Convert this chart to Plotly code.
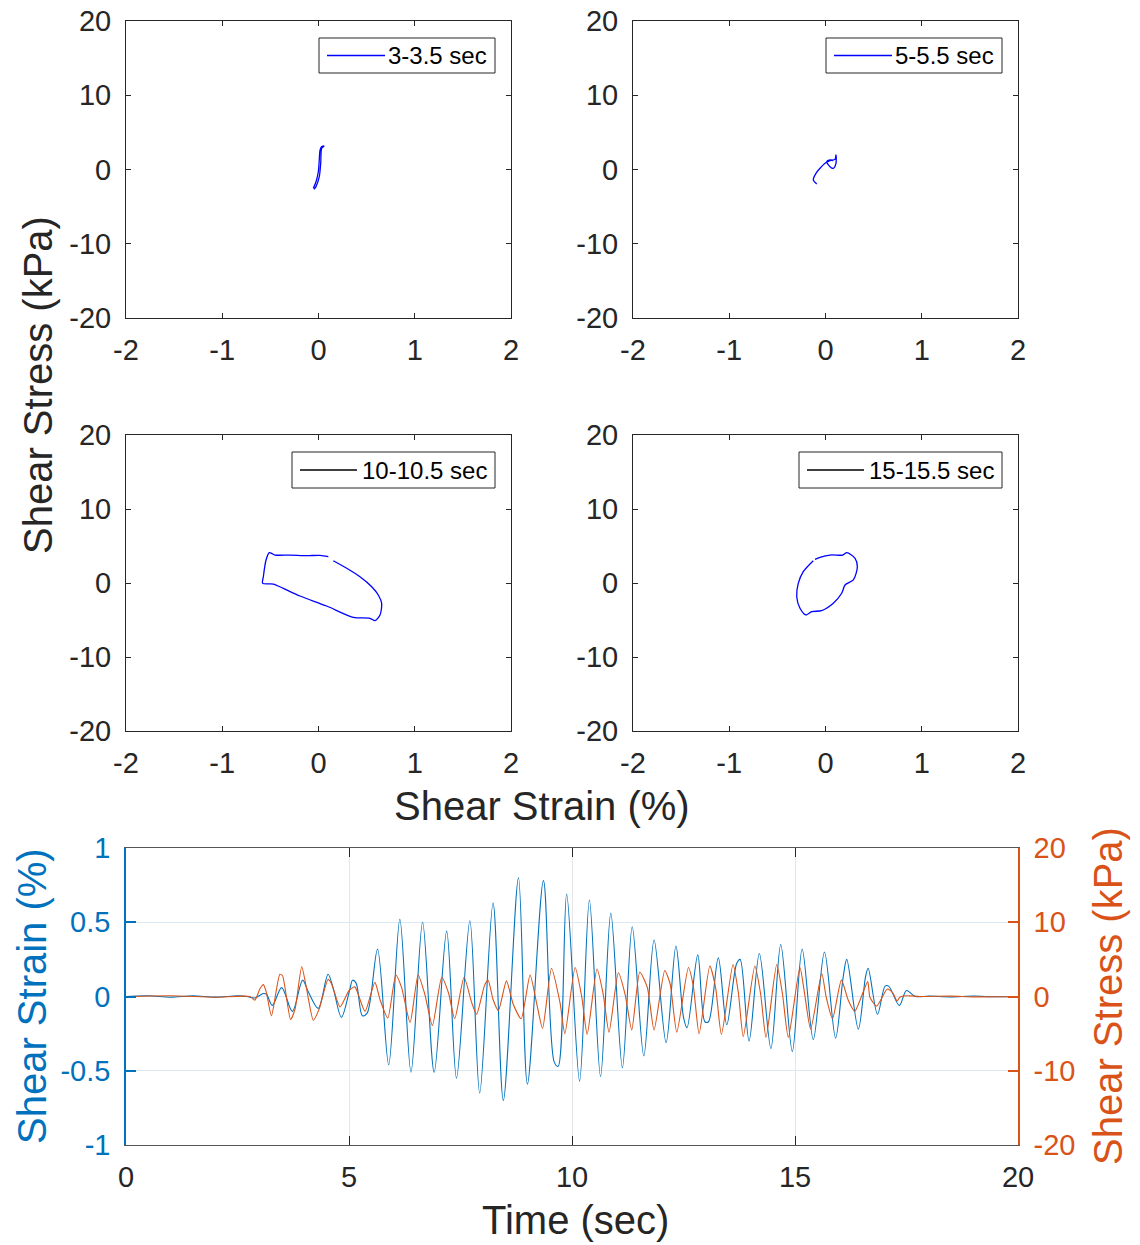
import plotly.graph_objects as go

W, H = 1140, 1245

# ---------------- DATA ----------------
# Hysteresis loops (shear strain %, shear stress kPa)
loop1_label = "3-3.5 sec"
loop1_strain = [-0.047, -0.026, 0.008, 0.023, 0.033, 0.057, 0.033, 0.016, 0.008, -0.002, -0.026, -0.054]
loop1_stress = [-2.67, -2.30, -0.97, 0.83, 2.85, 3.16, 3.10, 2.60, 1.28, -0.30, -1.64, -2.53]

loop2_label = "5-5.5 sec"
loop2_strain = [-0.091, -0.127, -0.099, -0.057, -0.005, 0.047, 0.099, 0.109, 0.109, 0.081, 0.047, 0.012, 0.047, 0.081]
loop2_stress = [-1.95, -1.41, -0.52, 0.16, 0.83, 1.19, 1.37, 1.95, 0.83, 0.16, 0.38, 1.05, 1.28, 1.19]

loop3_label = "10-10.5 sec"
loop3_strain = [0.154, 0.293, 0.431, 0.553, 0.621, 0.656, 0.639, 0.587, 0.535, 0.362, 0.085, -0.192,
                -0.366, -0.470, -0.580, -0.573, -0.545, -0.511, -0.486, -0.452, -0.296, -0.123, 0.016, 0.102]
loop3_stress = [3.01, 1.99, 0.85, -0.50, -1.62, -2.74, -4.32, -5.09, -4.77, -4.64, -3.11, -1.76,
                -0.72, -0.14, -0.05, 0.85, 3.10, 4.10, 4.00, 3.78, 3.78, 3.69, 3.74, 3.56]

loop4_label = "15-15.5 sec"
loop4_strain = [-0.127, -0.231, -0.283, -0.299, -0.265, -0.203, -0.143, -0.040, 0.081, 0.168, 0.203,
                0.289, 0.331, 0.307, 0.221, 0.179, 0.047, -0.057, -0.109]
loop4_stress = [3.01, 1.53, -0.05, -1.85, -3.42, -4.32, -3.87, -3.74, -2.74, -1.39, -0.27,
                0.41, 2.20, 3.34, 4.10, 3.78, 3.78, 3.47, 3.20]

# Time histories
strain_time = [0.0, 0.5, 1.0, 1.5, 2.0, 2.5, 2.71, 2.89, 3.08, 3.15, 3.28, 3.49, 3.73, 3.96, 4.09, 4.31,
               4.53, 4.65, 4.83, 5.02, 5.08, 5.16, 5.30, 5.41, 5.64, 5.89, 6.14, 6.39, 6.65, 6.91, 7.19,
               7.41, 7.71, 7.93, 8.23, 8.46, 8.80, 9.00, 9.36, 9.60, 9.69, 9.88, 10.17, 10.39, 10.64,
               10.87, 11.13, 11.35, 11.61, 11.84, 12.11, 12.33, 12.50, 12.58, 12.82, 12.98, 13.06,
               13.28, 13.47, 13.69, 13.77, 13.97, 14.20, 14.46, 14.68, 14.94, 15.16, 15.41, 15.66,
               15.91, 16.08, 16.16, 16.42, 16.58, 16.64, 16.85, 17.02, 17.10, 17.34, 17.50, 17.70,
               18.0, 18.5, 19.0, 19.5, 20.0]
strain_vals = [0.0, 0.005, -0.005, 0.004, -0.004, 0.004, 0.0, -0.01, 0.02, 0.015, -0.06, 0.06, -0.10,
               0.11, 0.03, -0.08, 0.15, 0.05, -0.14, 0.05, 0.11, 0.09, -0.13, -0.11, 0.32, -0.46, 0.52,
               -0.51, 0.50, -0.51, 0.44, -0.55, 0.51, -0.65, 0.63, -0.70, 0.80, -0.59, 0.78, -0.44,
               -0.47, 0.69, -0.57, 0.65, -0.54, 0.56, -0.48, 0.47, -0.40, 0.38, -0.31, 0.34, -0.14,
               -0.21, 0.28, -0.17, -0.17, 0.26, -0.19, 0.22, 0.25, -0.30, 0.29, -0.35, 0.35, -0.37,
               0.32, -0.29, 0.30, -0.28, 0.13, 0.25, -0.22, 0.13, 0.19, -0.12, 0.07, 0.07, -0.06,
               0.04, 0.0, 0.003, -0.003, 0.003, -0.002, 0.0]

stress_time = [0.0, 1.0, 2.0, 2.78, 2.89, 3.00, 3.08, 3.15, 3.26, 3.45, 3.51, 3.69, 3.79, 3.94, 4.05,
               4.20, 4.33, 4.53, 4.61, 4.80, 5.00, 5.13, 5.20, 5.36, 5.58, 5.70, 5.87, 6.05, 6.18, 6.37,
               6.55, 6.70, 6.87, 7.08, 7.23, 7.37, 7.58, 7.75, 7.86, 8.04, 8.12, 8.23, 8.35, 8.53,
               8.68, 8.86, 9.06, 9.21, 9.34, 9.54, 9.73, 9.84, 10.07, 10.22, 10.34, 10.56, 10.70,
               10.83, 11.04, 11.19, 11.34, 11.52, 11.69, 11.84, 12.08, 12.20, 12.35, 12.61, 12.72,
               12.85, 13.09, 13.22, 13.35, 13.61, 13.73, 13.84, 14.10, 14.23, 14.35, 14.59, 14.72,
               14.85, 15.11, 15.21, 15.35, 15.60, 15.70, 15.84, 16.04, 16.20, 16.34, 16.63, 16.68,
               16.83, 17.07, 17.19, 17.29, 17.35, 17.50, 17.80, 18.5, 19.0, 20.0]
stress_vals = [0.0, 0.1, -0.1, 0.0, -0.5, 1.0, 1.6, 0.5, -2.6, 3.0, 2.8, -3.1, -1.7, 4.0, 1.0,
               -3.2, -1.7, 2.3, 1.7, -1.4, 0.8, 1.3, 0.4, -2.0, 1.9, -0.5, -2.9, 2.9, 1.2, -3.5,
               2.9, 0.3, -3.9, 2.6, 0.5, -3.0, 2.6, -0.8, -2.4, 1.5, 2.2, -0.4, -1.9, 2.1,
               -1.0, -3.0, 2.9, -1.0, -4.3, 3.8, -0.8, -5.0, 3.9, -0.1, -5.1, 3.7, 0.3,
               -4.8, 3.2, 0.3, -4.5, 3.3, 1.2, -4.5, 3.5, 1.7, -4.8, 3.9, 1.4,
               -5.0, 4.1, 1.2, -5.1, 4.3, 0.5, -5.4, 4.1, 0.3, -5.5, 4.3, 0.3,
               -5.5, 3.9, 0.6, -4.4, 3.1, -0.1, -3.0, 2.2, -0.6, -2.0, 2.0, -0.1,
               -1.3, 1.0, 0.5, -0.6, -0.1, 0.1, 0.0, 0.05, -0.05, 0.0]

loop_xticks = [-2, -1, 0, 1, 2]
loop_yticks = [-20, -10, 0, 10, 20]
time_ticks = [0, 5, 10, 15, 20]
strain_ticks = [-1, -0.5, 0, 0.5, 1]
strain_ticklabels = ["-1", "-0.5", "0", "0.5", "1"]
stress_ticks = [-20, -10, 0, 10, 20]
stress_ticklabels = ["-20", "-10", "0", "10", "20"]

# ---------------- STYLE ----------------
FONT = "Arial, Liberation Sans, sans-serif"
DARK = "#262626"
BLUE = "#0072BD"
ORANGE = "#D95319"
LOOPBLUE = "#0000FF"
TICKFS = 29
TITLEFS = 40


def px(x):
    return x / W


def py(y):
    return 1 - y / H


panels = [  # (x0, x1, y0top, y1bottom) in pixels
    (126, 511, 21, 318),
    (633, 1018, 21, 318),
    (126, 511, 435, 731),
    (633, 1018, 435, 731),
]

fig = go.Figure()
loops = [(loop1_strain, loop1_stress), (loop2_strain, loop2_stress),
         (loop3_strain, loop3_stress), (loop4_strain, loop4_stress)]
for i, (sx, sy) in enumerate(loops):
    n = "" if i == 0 else str(i + 1)
    fig.add_trace(go.Scatter(x=sx, y=sy, mode="lines", xaxis="x" + n, yaxis="y" + n,
                             line=dict(color=LOOPBLUE, width=1.3, shape="spline", smoothing=0.8),
                             showlegend=False, hoverinfo="skip"))

fig.add_trace(go.Scatter(x=strain_time, y=strain_vals, mode="lines", xaxis="x5", yaxis="y5",
                         line=dict(color=BLUE, width=1.1, shape="spline", smoothing=0.9),
                         showlegend=False))
fig.add_trace(go.Scatter(x=stress_time, y=stress_vals, mode="lines", xaxis="x5", yaxis="y6",
                         line=dict(color=ORANGE, width=1.1, shape="spline", smoothing=0.6),
                         showlegend=False))

layout = dict(width=W, height=H, autosize=False, margin=dict(l=0, r=0, t=0, b=0, pad=0),
              paper_bgcolor="white", plot_bgcolor="white", template="none",
              font=dict(family=FONT, color=DARK, size=TICKFS), showlegend=False)

for i, (x0, x1, y0, y1) in enumerate(panels):
    n = "" if i == 0 else str(i + 1)
    layout["xaxis" + n] = dict(domain=[px(x0), px(x1)], anchor="y" + n, range=[-2, 2],
                               tickvals=loop_xticks, ticktext=[str(v) for v in loop_xticks],
                               showline=True, linecolor=DARK, linewidth=1, mirror="ticks",
                               ticks="inside", ticklen=5, tickcolor=DARK, showgrid=False,
                               zeroline=False, tickfont=dict(size=TICKFS, color=DARK),
                               ticklabelstandoff=6, automargin=False)
    layout["yaxis" + n] = dict(domain=[py(y1), py(y0)], anchor="x" + n, range=[-20, 20],
                               tickvals=loop_yticks, ticktext=[str(v) for v in loop_yticks],
                               showline=True, linecolor=DARK, linewidth=1, mirror="ticks",
                               ticks="inside", ticklen=5, tickcolor=DARK, showgrid=False,
                               zeroline=False, tickfont=dict(size=TICKFS, color=DARK),
                               ticklabelstandoff=8, automargin=False)

layout["xaxis5"] = dict(domain=[px(126), px(1018)], anchor="y5", range=[0, 20],
                        tickvals=time_ticks, ticktext=[str(v) for v in time_ticks],
                        showline=True, linecolor="#555555", linewidth=1, mirror="ticks",
                        ticks="inside", ticklen=9, tickcolor=DARK, showgrid=True,
                        gridcolor="#e6e6e6", gridwidth=1, zeroline=False,
                        tickfont=dict(size=TICKFS, color=DARK), ticklabelstandoff=6,
                        automargin=False)
layout["yaxis5"] = dict(domain=[py(1145), py(848)], anchor="x5", range=[-1, 1],
                        tickvals=strain_ticks, ticktext=strain_ticklabels,
                        showline=True, linecolor=BLUE, linewidth=1.5, mirror=False,
                        ticks="inside", ticklen=10, tickcolor=BLUE, tickwidth=1.5, showgrid=True,
                        gridcolor="#dce9f5", gridwidth=1, zeroline=False,
                        tickfont=dict(size=TICKFS, color=BLUE), ticklabelstandoff=8,
                        automargin=False)
layout["yaxis6"] = dict(overlaying="y5", anchor="x5", side="right", range=[-20, 20],
                        tickvals=stress_ticks, ticktext=stress_ticklabels,
                        showline=True, linecolor=ORANGE, linewidth=1.5,
                        ticks="inside", ticklen=10, tickcolor=ORANGE, tickwidth=1.5, showgrid=False,
                        zeroline=False, tickfont=dict(size=TICKFS, color=ORANGE), ticklabelstandoff=8,
                        automargin=False)

annotations = [
    dict(text="Shear Stress (kPa)", x=px(38), y=py(385), textangle=-90,
         font=dict(size=TITLEFS, color=DARK)),
    dict(text="Shear Strain (%)", x=px(542), y=py(806), font=dict(size=TITLEFS, color=DARK)),
    dict(text="Time (sec)", x=px(575), y=py(1220), font=dict(size=TITLEFS, color=DARK)),
    dict(text="Shear Strain (%)", x=px(32), y=py(996), textangle=-90,
         font=dict(size=TITLEFS, color=BLUE)),
    dict(text="Shear Stress (kPa)", x=px(1108), y=py(996), textangle=-90,
         font=dict(size=TITLEFS, color=ORANGE)),
]
for a in annotations:
    a.update(xref="paper", yref="paper", showarrow=False, xanchor="center", yanchor="middle")

shapes = []
legends = [  # (box x0, x1, y0, y1, line x0, x1, label, line colour)
    (319, 495, 38, 73, 327, 385, loop1_label, LOOPBLUE),
    (826, 1002, 38, 73, 834, 892, loop2_label, LOOPBLUE),
    (292, 495, 452, 488, 300, 357, loop3_label, "#000000"),
    (799, 1002, 452, 488, 807, 864, loop4_label, "#000000"),
]
for (bx0, bx1, by0, by1, lx0, lx1, lab, col) in legends:
    shapes.append(dict(type="rect", xref="paper", yref="paper", x0=px(bx0), x1=px(bx1),
                       y0=py(by1), y1=py(by0), line=dict(color=DARK, width=1),
                       fillcolor="white", layer="above"))
    ym = (by0 + by1) / 2
    shapes.append(dict(type="line", xref="paper", yref="paper", x0=px(lx0), x1=px(lx1),
                       y0=py(ym), y1=py(ym), line=dict(color=col, width=1.3), layer="above"))
    annotations.append(dict(text=lab, xref="paper", yref="paper", x=px(bx1 - 6), y=py(ym),
                            xanchor="right", yanchor="middle", showarrow=False,
                            font=dict(size=24, color="#000000")))

layout["annotations"] = annotations
layout["shapes"] = shapes
fig.update_layout(**layout)
fig.write_html("out.html")
